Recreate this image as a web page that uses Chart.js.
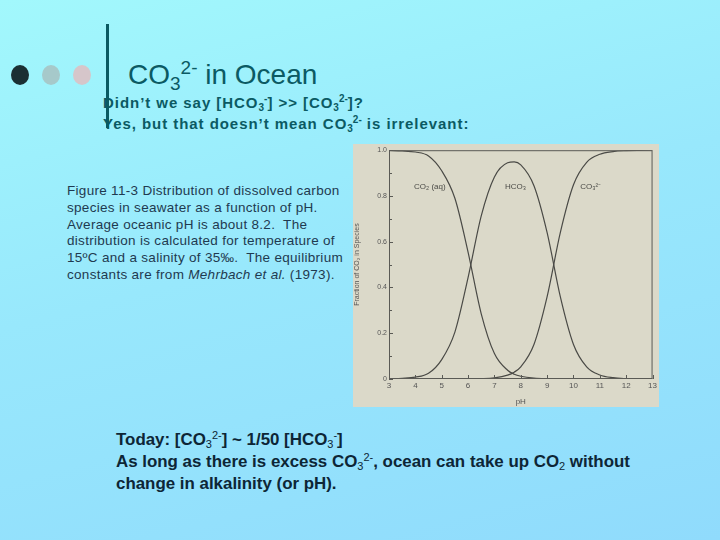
<!DOCTYPE html>
<html>
<head>
<meta charset="utf-8">
<script src="https://cdn.jsdelivr.net/npm/chart.js@4"></script>
<style>
  html, body { margin: 0; padding: 0; }
  body {
    width: 720px; height: 540px; overflow: hidden; position: relative;
    background: linear-gradient(165deg, #a2f8fc 0%, #98e8fc 45%, #90dbfc 100%);
    font-family: Arial, "Liberation Sans", sans-serif;
  }
  sub, sup { line-height: 0; }
  .dot { position: absolute; width: 18px; height: 20px; border-radius: 50%; }
  .vline { position: absolute; left: 106px; top: 24px; width: 3px; height: 104px; background: #0a5a62; }
  .title { position: absolute; left: 128px; top: 59px; font-size: 28px; color: #0b5a63; white-space: nowrap; }
  .title sub { font-size: 19px; vertical-align: -6px; }
  .title sup { font-size: 19px; vertical-align: 10px; }
  .sub1 { position: absolute; left: 103px; font-size: 15px; font-weight: bold; color: #0b5a63; white-space: nowrap; letter-spacing: 0.95px; }
  .sub1 sub, .sub1 sup { font-size: 10px; letter-spacing: 0; }
  .sub1 sub { vertical-align: -3px; }
  .sub1 sup { vertical-align: 6px; }
  .caption { position: absolute; left: 67px; top: 183px; font-size: 13.5px; line-height: 16.8px; color: #1f3a50; white-space: nowrap; letter-spacing: 0.3px; }
  .bottom { position: absolute; left: 116px; top: 429px; font-size: 16.9px; font-weight: bold; line-height: 22px; color: #0d2636; white-space: nowrap; }
  .bottom sub, .bottom sup { font-size: 11px; font-weight: normal; }
  .bottom sub { vertical-align: -3px; }
  .bottom sup { vertical-align: 6px; }
  #wrap { position: absolute; left: 353px; top: 144px; width: 306px; height: 263px; background: #dbd9c9; }
</style>
</head>
<body>
<div class="dot" style="left:11px;top:65px;background:#1b2f33"></div>
<div class="dot" style="left:42px;top:65px;background:#a6c9ca"></div>
<div class="dot" style="left:73px;top:65px;background:#d6c6ca"></div>

<div class="title">CO<sub>3</sub><sup>2-</sup> in Ocean</div>
<div class="sub1" style="top:94px">Didn’t we say [HCO<sub>3</sub><sup>-</sup>] &gt;&gt; [CO<sub>3</sub><sup>2-</sup>]?</div>
<div class="sub1" style="top:115px">Yes, but that doesn’t mean CO<sub>3</sub><sup>2-</sup> is irrelevant:</div>
<div class="vline"></div>

<div class="caption">Figure 11-3 Distribution of dissolved carbon<br>species in seawater as a function of pH.<br>Average oceanic pH is about 8.2.&nbsp; The<br>distribution is calculated for temperature of<br>15ºC and a salinity of 35‰.&nbsp; The equilibrium<br>constants are from <i>Mehrbach et al.</i> (1973).</div>

<div id="wrap"><canvas id="chart" width="306" height="263"></canvas></div>

<div class="bottom">Today: [CO<sub>3</sub><sup>2-</sup>] ~ 1/50 [HCO<sub>3</sub><sup>-</sup>]<br>As long as there is excess CO<sub>3</sub><sup>2-</sup>, ocean can take up CO<sub>2</sub> without<br>change in alkalinity (or pH).</div>

<script>
// values
const pH = [3, 3.5, 4, 4.5, 5, 5.5, 6, 6.5, 7, 7.5, 7.75, 8, 8.5, 9, 9.5, 10, 10.5, 11, 11.5, 12, 12.5, 13];
const co2aq = [0.999, 0.997, 0.992, 0.975, 0.91, 0.79, 0.555, 0.285, 0.111, 0.038, 0.021, 0.012, 0.0035, 0.0008, 0.0002, 0, 0, 0, 0, 0, 0, 0];
const hco3 = [0.001, 0.003, 0.008, 0.025, 0.085, 0.205, 0.443, 0.713, 0.883, 0.945, 0.949, 0.936, 0.845, 0.64, 0.36, 0.151, 0.053, 0.0175, 0.0056, 0.0018, 0.0006, 0.0002];
const co3 = [0, 0, 0, 0, 0, 0, 0, 0.0013, 0.005, 0.017, 0.030, 0.053, 0.151, 0.36, 0.64, 0.849, 0.947, 0.982, 0.994, 0.998, 0.9994, 1.0];

const xTicks = [3, 4, 5, 6, 7, 8, 9, 10, 11, 12, 13];
const yTicks = [0, 0.2, 0.4, 0.6, 0.8, 1.0];

const speciesLabels = [
    { text: "CO₂ (aq)", x: 4.55, y: 0.84 },
    { text: "HCO₃", x: 7.8, y: 0.84 },
    { text: "CO₃²⁻", x: 10.65, y: 0.84 }
];

const lineColor = "#4a4a46";

function series(vals) {
    return pH.map((p, i) => ({ x: p, y: vals[i] }));
}

// frame, inward ticks and species names
const figureBits = {
    id: "figureBits",
    afterDatasetsDraw(chart) {
        const { ctx, chartArea: a, scales } = chart;
        ctx.save();
        ctx.strokeStyle = "#5a5a55";
        ctx.lineWidth = 1;
        ctx.strokeRect(a.left + 0.5, a.top + 0.5, a.right - a.left - 1, a.bottom - a.top - 1);

        ctx.beginPath();
        xTicks.forEach(t => {
            const px = Math.round(scales.x.getPixelForValue(t)) + 0.5;
            ctx.moveTo(px, a.bottom);
            ctx.lineTo(px, a.bottom - 4);
        });
        for (let k = 0; k <= 10; k++) {
            const py = Math.round(scales.y.getPixelForValue(k / 10)) + 0.5;
            ctx.moveTo(a.left, py);
            ctx.lineTo(a.left + (k % 2 ? 3 : 4), py);
        }
        ctx.stroke();

        ctx.fillStyle = "#4a4a46";
        ctx.font = "8px Arial, 'Liberation Sans', sans-serif";
        ctx.textAlign = "center";
        ctx.textBaseline = "middle";
        speciesLabels.forEach(l => {
            ctx.fillText(l.text, scales.x.getPixelForValue(l.x), scales.y.getPixelForValue(l.y));
        });
        ctx.restore();
    }
};

new Chart(document.getElementById("chart"), {
    type: "line",
    data: {
        datasets: [
            { label: "CO2 (aq)", data: series(co2aq) },
            { label: "HCO3-", data: series(hco3) },
            { label: "CO3 2-", data: series(co3) }
        ].map(d => Object.assign(d, {
            borderColor: lineColor,
            borderWidth: 1.2,
            pointRadius: 0,
            fill: false,
            cubicInterpolationMode: "monotone"
        }))
    },
    options: {
        responsive: false,
        animation: false,
        layout: { padding: { top: 4, right: 6, left: 0, bottom: 0 } },
        plugins: { legend: { display: false }, tooltip: { enabled: false } },
        scales: {
            x: {
                type: "linear",
                min: 3,
                max: 13,
                afterBuildTicks: s => { s.ticks = xTicks.map(v => ({ value: v })); },
                afterFit: s => { s.height = 28; },
                grid: { display: false, drawTicks: false },
                border: { display: false },
                ticks: { color: "#555", font: { size: 8 }, padding: 2, maxRotation: 0 },
                title: { display: true, text: "pH", color: "#555", font: { size: 8 }, padding: 0 }
            },
            y: {
                min: 0,
                max: 1,
                afterBuildTicks: s => { s.ticks = yTicks.map(v => ({ value: v })); },
                afterFit: s => { s.width = 36; },
                grid: { display: false, drawTicks: false },
                border: { display: false },
                ticks: {
                    color: "#555",
                    font: { size: 7 },
                    padding: 2,
                    callback: v => v === 0 ? "0" : v.toFixed(1)
                },
                title: { display: true, text: "Fraction of CO₂ in Species", color: "#555", font: { size: 7 }, padding: 0 }
            }
        }
    },
    plugins: [figureBits]
});
</script>
</body>
</html>
